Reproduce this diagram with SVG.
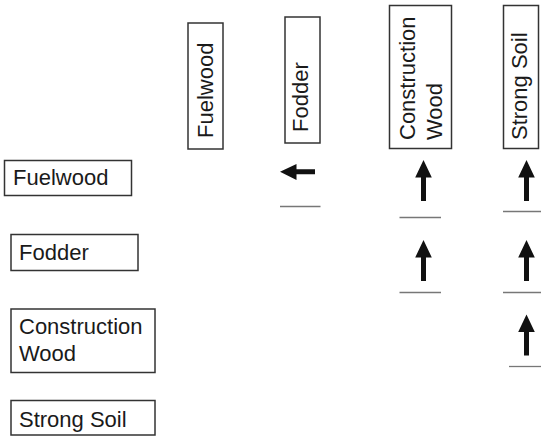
<svg xmlns="http://www.w3.org/2000/svg" width="541" height="436" viewBox="0 0 541 436">
<style>
.box{fill:#fff;stroke:#333;stroke-width:1.5}
.t{font-family:"Liberation Sans",Arial,sans-serif;font-size:22px;fill:#1a1a1a}
.rule{stroke:#777;stroke-width:1.3}
.arr{fill:#111}
</style>
<defs>
<path id="up" class="arr" d="M0,0 L8.3,17.5 L2.5,17.5 L2.5,41 L-2.5,41 L-2.5,17.5 L-8.3,17.5 Z"/>
</defs>
<rect width="541" height="436" fill="#fff"/>
<g id="col-fuelwood"><rect class="box" x="188" y="23" width="35" height="126"/><text class="t" transform="translate(213,138) rotate(-90)">Fuelwood</text></g>
<g id="col-fodder"><rect class="box" x="285" y="17" width="35" height="126"/><text class="t" transform="translate(308,132) rotate(-90)">Fodder</text></g>
<g id="col-construction"><rect class="box" x="389.5" y="5.5" width="62" height="143"/><text class="t" transform="translate(415,140) rotate(-90)">Construction<tspan x="0" dy="26.5">Wood</tspan></text></g>
<g id="col-soil"><rect class="box" x="503.5" y="5.5" width="35" height="143"/><text class="t" transform="translate(527,140) rotate(-90)">Strong Soil</text></g>
<g id="row-fuelwood"><rect class="box" x="4.5" y="160.5" width="127" height="35"/><text class="t" x="13" y="185">Fuelwood</text></g>
<g id="row-fodder"><rect class="box" x="11" y="234.5" width="127" height="36"/><text class="t" x="19" y="260">Fodder</text></g>
<g id="row-construction"><rect class="box" x="11" y="309" width="144" height="63.5"/><text class="t" x="19" y="334">Construction<tspan x="19" dy="26.5">Wood</tspan></text></g>
<g id="row-soil"><rect class="box" x="11" y="400.5" width="144" height="34.5"/><text class="t" x="19" y="426.5">Strong Soil</text></g>
<g id="connectors">
<path class="arr" d="M280,171.8 L296.5,164 L296.5,169.3 L315,169.3 L315,174.3 L296.5,174.3 L296.5,180 Z"/>
<line class="rule" x1="280" y1="206.5" x2="320.5" y2="206.5"/>
<use href="#up" x="423.5" y="160"/>
<line class="rule" x1="399.5" y1="217.5" x2="441" y2="217.5"/>
<use href="#up" x="423.5" y="240"/>
<line class="rule" x1="399.5" y1="292.5" x2="441" y2="292.5"/>
<use href="#up" x="526.5" y="160"/>
<line class="rule" x1="503" y1="211.5" x2="541" y2="211.5"/>
<use href="#up" x="526.5" y="240"/>
<line class="rule" x1="503" y1="292.5" x2="541" y2="292.5"/>
<use href="#up" x="526.5" y="314.5"/>
<line class="rule" x1="509" y1="366.5" x2="541" y2="366.5"/>
</g>
</svg>
